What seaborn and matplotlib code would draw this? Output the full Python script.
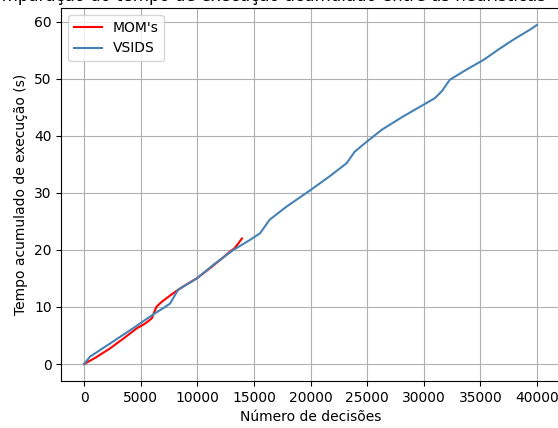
import matplotlib
matplotlib.use("Agg")
import matplotlib.pyplot as plt
import seaborn as sns
import pandas as pd

mom_x = [0, 1000, 2300, 3500, 4650, 5400, 5980, 6400, 6860, 7600, 8300, 9100, 9950, 11000, 12000, 12900, 13300, 13650, 13950]
mom_y = [0, 1.1, 2.75, 4.5, 6.25, 7.1, 8.0, 10.05, 10.9, 12.0, 13.0, 14.0, 15.0, 16.6, 18.2, 19.7, 20.3, 21.2, 22.0]

vsids_x = [0, 530, 2300, 4350, 6270, 7000, 7600, 8300, 9950, 11500, 13200, 14660, 15540, 16400, 17900, 19800, 21700, 23200, 23900,
           25000, 26300, 28200, 29960, 31000, 31600, 32300, 33800, 35300, 36600, 37900, 39400, 40000]
vsids_y = [0, 1.3, 3.6, 6.3, 8.9, 9.8, 10.6, 13.0, 15.0, 17.5, 20.0, 21.75, 22.9, 25.3, 27.6, 30.2, 32.9, 35.2, 37.2,
           39.0, 41.05, 43.4, 45.4, 46.6, 47.8, 49.8, 51.6, 53.3, 55.1, 56.8, 58.6, 59.4]

df = pd.concat([
    pd.DataFrame({"x": mom_x, "y": mom_y, "Heurística": "MOM's"}),
    pd.DataFrame({"x": vsids_x, "y": vsids_y, "Heurística": "VSIDS"}),
])

fig = plt.figure(figsize=(5.58, 4.28), dpi=100)
ax = fig.add_axes([61.4 / 558, 47 / 428, 498.2 / 558, 373 / 428])
sns.lineplot(data=df, x="x", y="y", hue="Heurística", palette={"MOM's": "red", "VSIDS": "steelblue"},
             ax=ax, linewidth=1.5, sort=False, estimator=None)
ax.grid(True)
ax.set_xlabel("Número de decisões")
ax.set_ylabel("Tempo acumulado de execução (s)")
ax.set_title("Comparação do tempo de execução acumulado entre as heurísticas", x=0.404, pad=5)
ax.set_xticks(range(0, 40001, 5000))
ax.legend(loc="upper left", title=None)
fig.savefig("out.png", dpi=100)
